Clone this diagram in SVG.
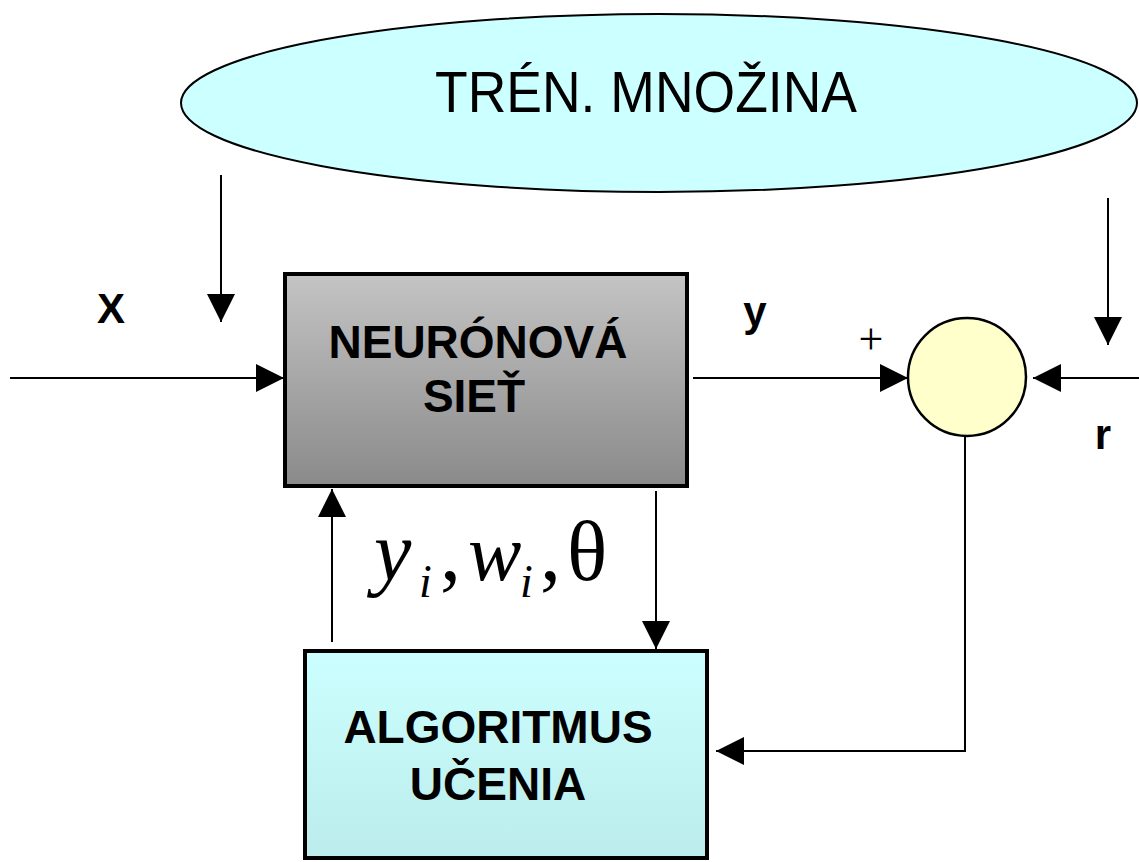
<svg xmlns="http://www.w3.org/2000/svg" width="1139" height="862" viewBox="0 0 1139 862">
<defs>
<linearGradient id="gNet" x1="0" y1="0" x2="0" y2="1">
<stop offset="0" stop-color="#c4c4c4"/>
<stop offset="1" stop-color="#8a8a8a"/>
</linearGradient>
<linearGradient id="gAlg" x1="0" y1="0" x2="0" y2="1">
<stop offset="0" stop-color="#ccffff"/>
<stop offset="1" stop-color="#bcecec"/>
</linearGradient>
<marker id="arr" viewBox="0 0 28 28" refX="28" refY="14" markerWidth="28" markerHeight="28" markerUnits="userSpaceOnUse" orient="auto">
<path d="M0,0 L28,14 L0,28 Z" fill="#000"/>
</marker>
<style>
.ln{stroke:#000;stroke-width:2;fill:none}
.box{stroke:#000;stroke-width:4}
.bold{font-family:"Liberation Sans",Arial,sans-serif;font-weight:bold;fill:#000}
.serif{font-family:"Liberation Serif","Times New Roman",serif;fill:#000}
.it{font-style:italic}
</style>
</defs>
<g id="connectors">
<line class="ln" x1="10" y1="378" x2="284" y2="378" marker-end="url(#arr)"/>
<line class="ln" x1="221" y1="175" x2="221" y2="322" marker-end="url(#arr)"/>
<line class="ln" x1="1108" y1="198" x2="1108" y2="345" marker-end="url(#arr)"/>
<line class="ln" x1="693" y1="378" x2="908" y2="378" marker-end="url(#arr)"/>
<line class="ln" x1="1139" y1="378" x2="1033" y2="378" marker-end="url(#arr)"/>
<polyline class="ln" points="965,435 965,751 716,751" marker-end="url(#arr)"/>
<line class="ln" x1="332" y1="642" x2="332" y2="489" marker-end="url(#arr)"/>
<line class="ln" x1="656" y1="491" x2="656" y2="649" marker-end="url(#arr)"/>
</g>
<g id="trening">
<ellipse cx="659" cy="103" rx="478" ry="89" fill="#ccffff" stroke="#000" stroke-width="2"/>
<text x="646" y="112" text-anchor="middle" font-family="'Liberation Sans',Arial,sans-serif" font-size="58" textLength="422" lengthAdjust="spacingAndGlyphs">TRÉN. MNOŽINA</text>
</g>
<g id="siet">
<rect class="box" x="285" y="274" width="402" height="212" fill="url(#gNet)"/>
<text class="bold" x="478" y="358" text-anchor="middle" font-size="46">NEURÓNOVÁ</text>
<text class="bold" x="474" y="412" text-anchor="middle" font-size="46">SIEŤ</text>
</g>
<g id="algoritmus">
<rect class="box" x="305" y="651" width="402" height="207" fill="url(#gAlg)"/>
<text class="bold" x="498" y="743" text-anchor="middle" font-size="46">ALGORITMUS</text>
<text class="bold" x="498" y="800" text-anchor="middle" font-size="46">UČENIA</text>
</g>
<g id="sumator">
<circle cx="967" cy="377" r="59" fill="#ffffcc" stroke="#000" stroke-width="2.5"/>
</g>
<g id="labels">
<text class="bold" x="111" y="323" text-anchor="middle" font-size="42">X</text>
<text class="bold" x="755" y="326" text-anchor="middle" font-size="42">y</text>
<text class="bold" x="1103" y="449" text-anchor="middle" font-size="42">r</text>
<text class="serif" x="871" y="354" text-anchor="middle" font-size="44">+</text>
<text class="serif it" x="374" y="580" font-size="84">y</text>
<text class="serif it" x="419" y="597" font-size="46">i</text>
<text class="serif" x="440" y="580" font-size="84">,</text>
<text class="serif it" x="468" y="580" font-size="80">w</text>
<text class="serif it" x="520" y="597" font-size="46">i</text>
<text class="serif" x="540" y="580" font-size="84">,</text>
<text class="serif" x="567" y="580" font-size="84">θ</text>
</g>
</svg>
